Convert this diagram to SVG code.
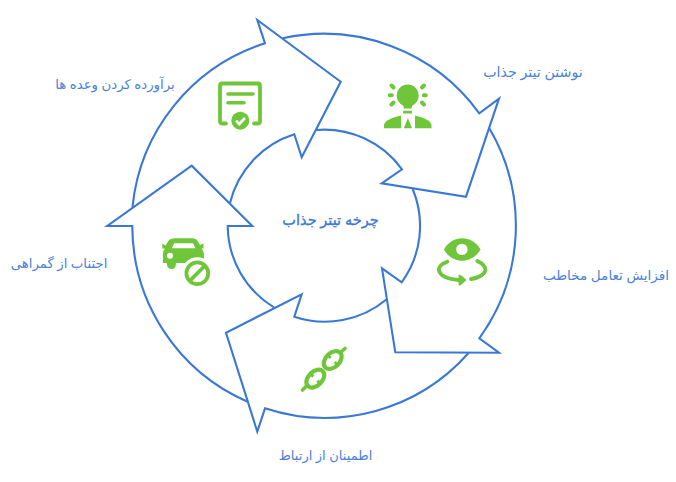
<svg xmlns="http://www.w3.org/2000/svg" width="676" height="482" viewBox="0 0 676 482">
<style>
.a{fill:none;stroke:#3b78d6;stroke-width:2.1;stroke-linejoin:miter}
.t{font-family:"Noto Sans","DejaVu Sans",sans-serif;font-size:13.300px;fill:#4a82da;text-anchor:middle;direction:rtl}
.g{fill:#70c63a}
.s{fill:none;stroke:#70c63a;stroke-linecap:round}
</style>
<rect width="676" height="482" fill="#fff"/>
<g id="connectors">
<path class="a" d="M132.500 207A191.700 191.700 0 0 1 265 43.300L257.300 20L340.700 81.700L301.700 157.300L294.300 134.300A96 96 0 0 0 230 203"/>
<path class="a" d="M282.700 38.300A191.700 191.700 0 0 1 479.300 113.300L499 98.700L466 196.700L381.700 183.300L402 169.300A96 96 0 0 0 316 130"/>
<path class="a" d="M489.300 128.300A191.700 191.700 0 0 1 479.300 338.300L499 352.700L395.300 352.300L382 268.300L401.700 282.300A96 96 0 0 0 412.700 189"/>
<path class="a" d="M468.300 353.300A191.700 191.700 0 0 1 265 408.300L257.300 431.700L226 332.700L301.700 294.300L294.300 316.700A96 96 0 0 0 386.700 299.300"/>
<path class="a" d="M247.700 401.700A191.700 191.700 0 0 1 132.300 226L107.300 226L191.700 165.700L252.300 226L227.700 226A96 96 0 0 0 274 307.300"/>
</g>
<g id="center"><text class="t" x="330.500" y="225" style="font-size:14.500px;fill:#3b78d6;stroke:#3b78d6;stroke-width:.35">چرخه تیتر جذاب</text></g>
<g id="node-promise">
<path class="s" stroke-width="3.800" d="M226 123.500H222Q220 123.500 220 121V86Q220 83.500 222 83.500H258Q260 83.500 260 86V121Q260 123.500 258 123.500H254"/>
<path class="s" stroke-width="3.600" d="M228 94H253M228 102.700H244"/>
<circle cx="240.300" cy="120.700" r="11" fill="#fff"/>
<circle class="g" cx="240.300" cy="120.700" r="9"/>
<path d="M236 120.700L239.300 124L245 117.800" fill="none" stroke="#fff" stroke-width="2.600"/>
<text class="t" x="115" y="89">برآورده کردن وعده ها</text>
</g>
<g id="node-write">
<circle class="g" cx="407.700" cy="95.500" r="11"/>
<path class="g" d="M401.500 100H414L411.500 108.500H404Z"/>
<rect class="g" x="403" y="110.800" width="9" height="2.800" rx=".5"/>
<path class="s" stroke-width="4" d="M389.800 95.300H391.800M391.500 85.500L393.500 87.500M391.500 104.500L393.500 102.500M423.800 95.300H425.800M424 85.500L422 87.500M424 104.500L422 102.500"/>
<path class="g" d="M384 128.300V125Q385 119 401 115.500V128.300Z"/>
<path class="g" d="M431.500 128.300V125Q430.500 119 415 115.500V128.300Z"/>
<path class="g" d="M407.900 118L412 128.300H403.800Z"/>
<text class="t" x="533" y="77" style="font-size:14.200px">نوشتن تیتر جذاب</text>
</g>
<g id="node-engage">
<path class="g" d="M444 249.500C452 234.500 472 234.500 480.500 249.500C472 264.500 452 264.500 444 249.500Z"/>
<circle cx="461.900" cy="249.400" r="5.700" fill="#fff"/>
<path class="s" stroke-width="3.800" d="M447.300 261.700Q438.300 265 438.800 270Q441 279 460 280M477.300 261Q485.500 265 485.500 270Q484 277 471 279"/>
<path class="g" d="M458.500 274.800Q461 274.500 466.500 280L460 285.700Q458 285.500 458.500 283Z"/>
<text class="t" x="606" y="280" style="font-size:13.600px">افزایش تعامل مخاطب</text>
</g>
<g id="node-link">
<ellipse cx="332.700" cy="360" rx="10.500" ry="7" transform="rotate(-45 332.700 360)" fill="none" stroke="#70c63a" stroke-width="4.200"/>
<ellipse cx="315.300" cy="378.600" rx="10.500" ry="7" transform="rotate(-45 315.300 378.600)" fill="none" stroke="#70c63a" stroke-width="4.200"/>
<path class="s" stroke-width="3.600" d="M302.500 390L307.500 385M340 353L345 348.500"/>
<path d="M328 355.300L330.700 358M337.400 364.700L334.700 362M310.600 373.900L313.300 376.600M320 383.300L317.300 380.600" fill="none" stroke="#70c63a" stroke-width="3"/>
<text class="t" x="325.500" y="460" style="font-size:13.100px">اطمینان از ارتباط</text>
</g>
<g id="node-avoid">
<path class="g" d="M168 241.500Q170 238.300 175 238.300H192Q196 238.300 198 241.500L200 245L203.500 243.500V248.500H201.500Q204 251 204 256V263H163V253Q163 250 165 248.500H162.300V243.500L165.500 245.500Z"/>
<path d="M172 248.300L174 243.300H193L195.500 248.300Z" fill="#fff"/>
<circle cx="170" cy="255.700" r="3" fill="#fff"/>
<path class="g" d="M166.700 263H176Q176 269 171.300 269Q167 269 166.700 263Z"/>
<circle cx="197.300" cy="273.300" r="16" fill="#fff"/>
<circle cx="197.300" cy="273.300" r="10.900" fill="none" stroke="#70c63a" stroke-width="3.800"/>
<path d="M190 280.600L204.600 266" stroke="#70c63a" stroke-width="3.800"/>
<text class="t" x="59" y="268">اجتناب از گمراهی</text>
</g>
</svg>
